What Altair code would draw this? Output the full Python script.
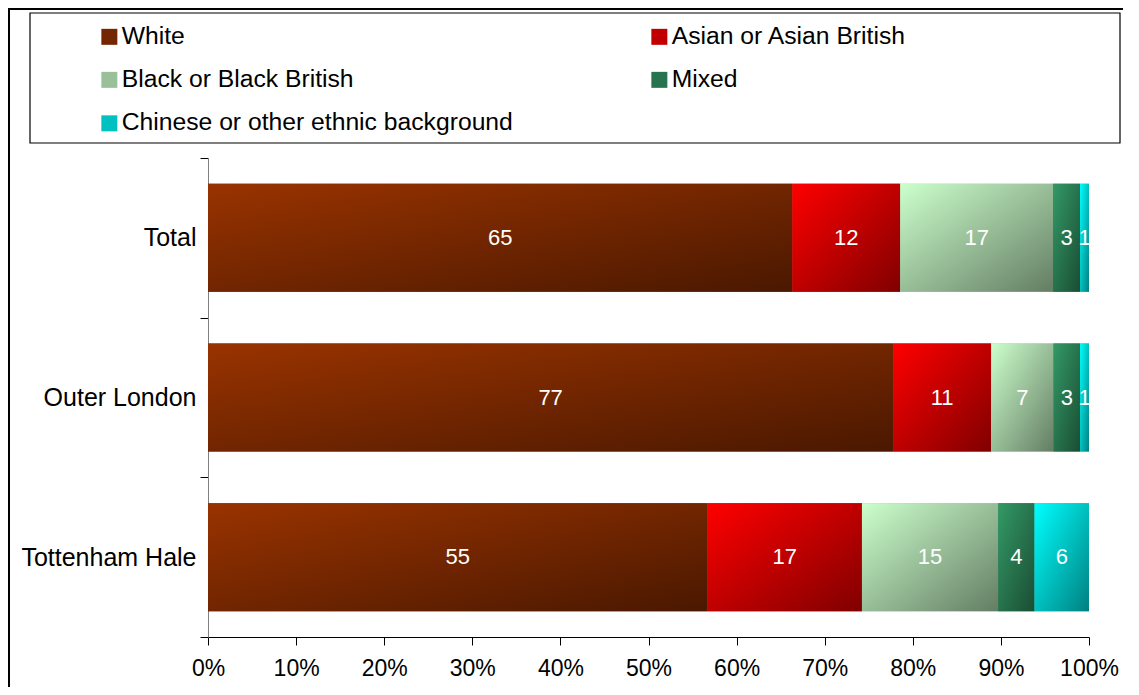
import altair as alt
import pandas as pd

centres = ["Total", "Outer London", "Tottenham Hale"]
groups = ["White", "Asian or Asian British", "Black or Black British", "Mixed",
          "Chinese or other ethnic background"]
white = [65, 77, 55]
asian = [12, 11, 17]
black = [17, 7, 15]
mixed = [3, 3, 4]
chinese = [1, 1, 6]
series = [white, asian, black, mixed, chinese]

solid = ["#732600", "#c00000", "#99c099", "#267350", "#00c0c0"]
grad_pairs = [("#993300", "#4a1800"), ("#ff0000", "#800000"), ("#ccffcc", "#647d64"),
              ("#339966", "#1a4d33"), ("#00ffff", "#008080")]

# legend grid is filled column by column: reorder so rows read White/Asian, Black/Mixed, Chinese
legend_order = [0, 2, 4, 1, 3]
legend_domain = [groups[i] for i in legend_order]
legend_range = [solid[i] for i in legend_order]

rows = []
for gi, (g, vals) in enumerate(zip(groups, series)):
    for ci, c in enumerate(centres):
        rows.append({"centre": c, "group": g, "value": vals[ci], "order": gi})
df = pd.DataFrame(rows)

FONT = "Liberation Sans"
BAR = 108


def grad(c1, c2):
    return {"gradient": "linear", "x1": 0, "y1": 0, "x2": 1, "y2": 1,
            "stops": [{"offset": 0, "color": c1}, {"offset": 1, "color": c2}]}


base = alt.Chart(df).transform_stack(
    stack="value", groupby=["centre"], as_=["x0", "x1"], offset="normalize",
    sort=[alt.SortField("order", order="ascending")]
)

x_enc = alt.X("x0:Q", scale=alt.Scale(domain=[0, 1], nice=False),
              axis=alt.Axis(format="%", values=[i / 10 for i in range(11)], grid=False,
                            title=None, tickSize=8, labelFontSize=23, labelPadding=12,
                            labelFont=FONT, labelColor="black", domainColor="black",
                            tickColor="black", labelFlush=False))
y_enc = alt.Y("centre:N", sort=centres,
              scale=alt.Scale(paddingInner=0, paddingOuter=0),
              axis=alt.Axis(title=None, tickBand="extent", labelFontSize=25, labelFont=FONT,
                            labelColor="black", tickSize=8, labelPadding=4,
                            domainColor="#808080", tickColor="black"))

bars_solid = base.mark_bar(size=BAR).encode(
    x=x_enc, x2="x1:Q", y=y_enc,
    color=alt.Color("group:N",
                    scale=alt.Scale(domain=legend_domain, range=legend_range),
                    legend=alt.Legend(title=None, orient="none", legendX=-111, legendY=-134,
                                      columns=2, columnPadding=134, rowPadding=17.5,
                                      symbolType="square", symbolSize=256, symbolStrokeWidth=0,
                                      labelFontSize=24.7, labelFont=FONT, labelColor="black",
                                      labelOffset=0, labelLimit=600, padding=0)),
    order=alt.Order("order:Q"),
)

cond = [{"test": f"datum.group === '{g}'", "value": grad(*grad_pairs[i])}
        for i, g in enumerate(groups[:-1])]
bars_grad = base.mark_bar(size=BAR).encode(
    x="x0:Q", x2="x1:Q", y=alt.Y("centre:N", sort=centres),
    color={"condition": cond, "value": grad(*grad_pairs[-1])},
)

labels = base.transform_calculate(mid="(datum.x0 + datum.x1) / 2").mark_text(
    color="white", fontSize=22, font=FONT, align="center", baseline="middle"
).encode(x="mid:Q", y=alt.Y("centre:N", sort=centres), text="value:Q")

one = pd.DataFrame({"k": [0]})
frame = alt.Chart(one).mark_rect(fill=None, stroke="black", strokeWidth=2).encode(
    x=alt.value(-199), x2=alt.value(1100), y=alt.value(-149), y2=alt.value(700))
legend_box = alt.Chart(one).mark_rect(fill="white", stroke="black", strokeWidth=1.2).encode(
    x=alt.value(-178), x2=alt.value(912), y=alt.value(-145), y2=alt.value(-15))

chart = alt.layer(frame, legend_box, bars_solid, bars_grad, labels).properties(
    width=881, height=479,
    background="white",
    padding={"left": 200, "top": 150, "right": 34, "bottom": 50},
    autosize=alt.AutoSizeParams(type="none"),
).configure_view(stroke=None)

chart.save("out.html", embed_options={"renderer": "svg", "actions": False})
